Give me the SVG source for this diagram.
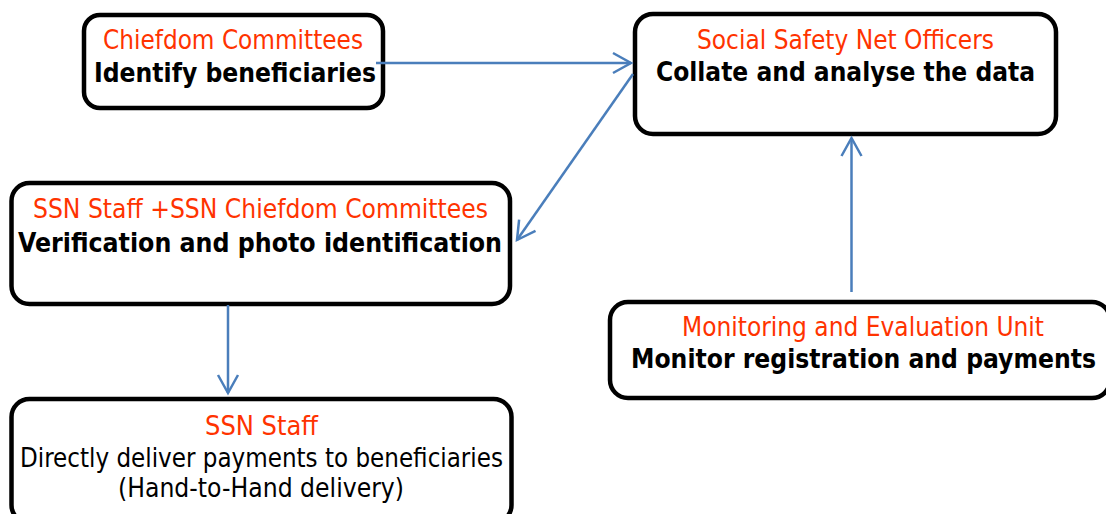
<svg xmlns="http://www.w3.org/2000/svg" width="1106" height="514" viewBox="0 0 1106 514">
<style>
.box{fill:#fff;stroke:#000;stroke-width:4.5}
.t{font-family:"DejaVu Sans Condensed","DejaVu Sans",sans-serif;font-size:26px;text-anchor:middle}
.r{fill:#FF3300}
.b{fill:#000;font-weight:bold}
.n{fill:#000}
.c{stroke:#4A7EBB;stroke-width:2.5;fill:none}
</style>
<defs>
<marker id="arr" markerUnits="userSpaceOnUse" markerWidth="30" markerHeight="30" viewBox="-22 -15 30 30" refX="0" refY="0" orient="auto">
<path d="M-18,-10 L0,0 L-18,10" fill="none" stroke="#4A7EBB" stroke-width="2.5" stroke-linejoin="miter"/>
</marker>
</defs>
<rect width="1106" height="514" fill="#fff"/>
<g id="n1">
<rect class="box" x="84" y="15" width="299" height="93" rx="16"/>
<text class="t r" x="233" y="48.5" textLength="260" lengthAdjust="spacingAndGlyphs">Chiefdom Committees</text>
<text class="t b" x="235" y="81.5" textLength="282" lengthAdjust="spacingAndGlyphs">Identify beneficiaries</text>
</g>
<g id="n2">
<rect class="box" x="635" y="14" width="421" height="120" rx="18"/>
<text class="t r" x="845.5" y="49" textLength="297" lengthAdjust="spacingAndGlyphs">Social Safety Net Officers</text>
<text class="t b" x="845.5" y="81" textLength="379" lengthAdjust="spacingAndGlyphs">Collate and analyse the data</text>
</g>
<g id="n3">
<rect class="box" x="11.5" y="183" width="498.5" height="121" rx="18"/>
<text class="t r" x="260.5" y="218" textLength="455" lengthAdjust="spacingAndGlyphs">SSN Staff +SSN Chiefdom Committees</text>
<text class="t b" x="260" y="251.5" textLength="484" lengthAdjust="spacingAndGlyphs">Verification and photo identification</text>
</g>
<g id="n4">
<rect class="box" x="11.5" y="399" width="500" height="124" rx="18"/>
<text class="t r" x="261.5" y="435" textLength="113" lengthAdjust="spacingAndGlyphs">SSN Staff</text>
<text class="t n" x="261.5" y="467" textLength="483" lengthAdjust="spacingAndGlyphs">Directly deliver payments to beneficiaries</text>
<text class="t n" x="261" y="497" textLength="286" lengthAdjust="spacingAndGlyphs">(Hand-to-Hand delivery)</text>
</g>
<g id="n5">
<rect class="box" x="610" y="302" width="500" height="96" rx="18"/>
<text class="t r" x="863" y="336" textLength="362" lengthAdjust="spacingAndGlyphs">Monitoring and Evaluation Unit</text>
<text class="t b" x="863.5" y="367.5" textLength="465" lengthAdjust="spacingAndGlyphs">Monitor registration and payments</text>
</g>
<g id="connectors">
<line class="c" x1="376" y1="63" x2="631" y2="63" marker-end="url(#arr)"/>
<line class="c" x1="633" y1="74" x2="517" y2="240" marker-end="url(#arr)"/>
<line class="c" x1="228" y1="305" x2="228" y2="393" marker-end="url(#arr)"/>
<line class="c" x1="851.5" y1="292" x2="851.5" y2="138" marker-end="url(#arr)"/>
</g>
</svg>
